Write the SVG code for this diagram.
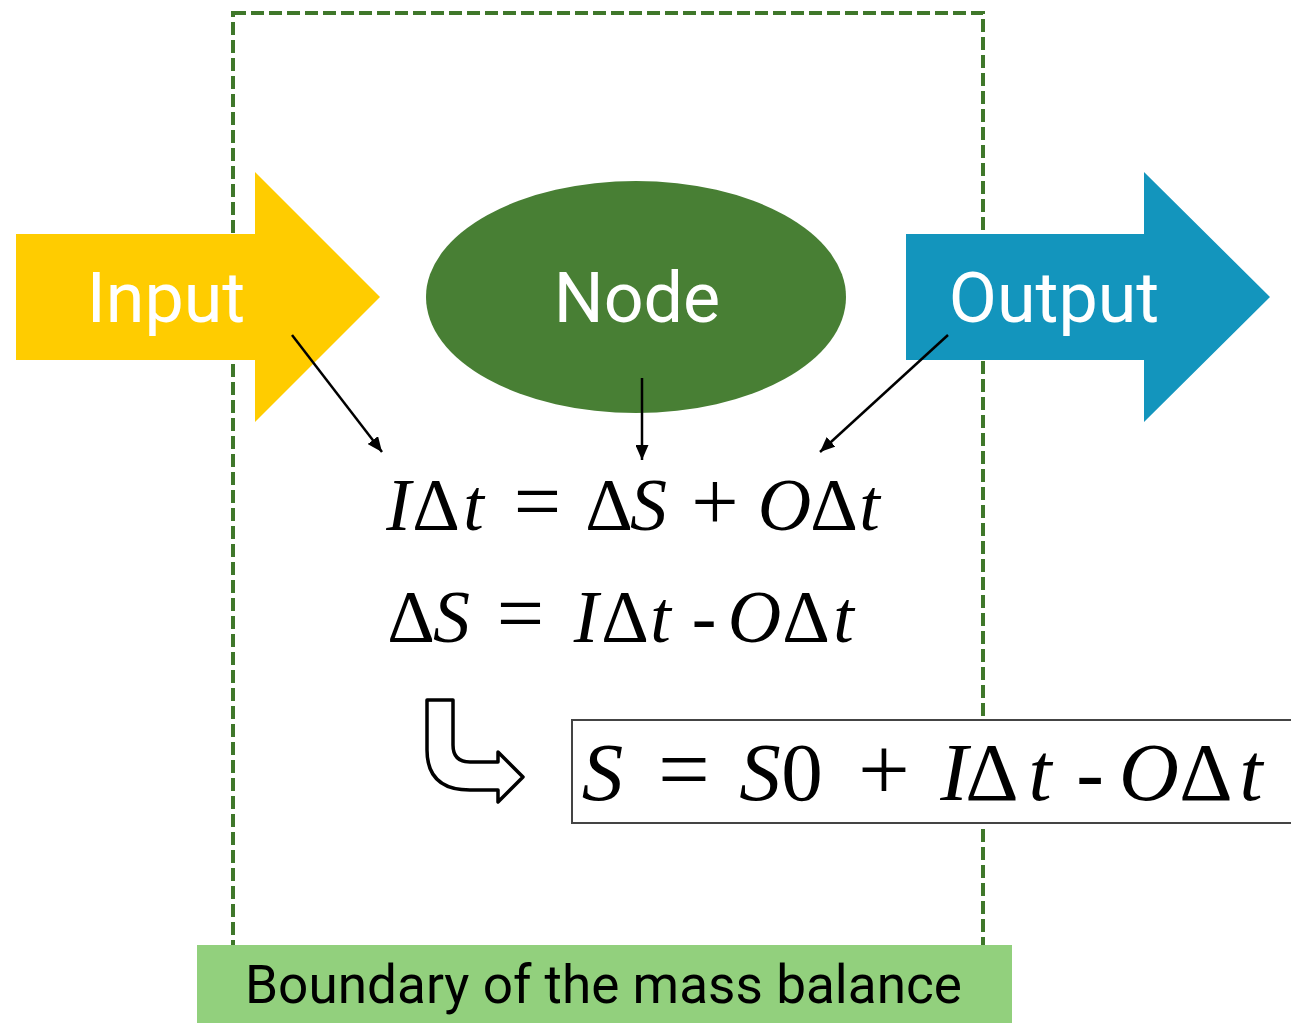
<svg xmlns="http://www.w3.org/2000/svg" width="1291" height="1023" viewBox="0 0 1291 1023">
  <style>
    .lbl { font-family: Roboto, "Liberation Sans", sans-serif; font-size: 70px; fill: #ffffff; text-anchor: middle; }
    .math { font-family: "Liberation Serif", "DejaVu Serif", serif; fill: #000000; text-anchor: middle; }
    .it { font-style: italic; }
    .op1 { font-size: 84px; }
    .op3 { font-size: 92px; }
    .conn { stroke: #000000; stroke-width: 2.5; fill: none; marker-end: url(#ah); }
  </style>
  <defs>
    <marker id="ah" viewBox="0 0 15 13" refX="15" refY="6.5" markerWidth="15" markerHeight="13" orient="auto" markerUnits="userSpaceOnUse">
      <path d="M0,0 L15,6.5 L0,13 Z" fill="#000000"/>
    </marker>
  </defs>
  <rect width="1291" height="1023" fill="#ffffff"/>

  <g id="boundary">
    <rect x="233" y="13" width="750" height="935" fill="none" stroke="#3F772A" stroke-width="4" stroke-dasharray="13 5"/>
  </g>

  <g id="input">
    <polygon points="16,234 255,234 255,172 380,297 255,422 255,360 16,360" fill="#FFCC00"/>
    <text class="lbl" x="166" y="322">Input</text>
  </g>

  <g id="node">
    <ellipse cx="636" cy="297" rx="210" ry="116" fill="#487F34"/>
    <text class="lbl" x="637" y="322">Node</text>
  </g>

  <g id="output">
    <polygon points="906,234 1144,234 1144,172 1270,297 1144,422 1144,360 906,360" fill="#1395BD"/>
    <text class="lbl" x="1054" y="322">Output</text>
  </g>

  <g id="connectors">
    <line class="conn" x1="292" y1="335" x2="382" y2="452"/>
    <line class="conn" x1="642" y1="378" x2="642" y2="460"/>
    <line class="conn" x1="948" y1="335" x2="820" y2="452"/>
  </g>

  <g id="eq1">
    <text class="math" y="530" font-size="74">
      <tspan class="it" x="398.5">I</tspan><tspan x="436">Δ</tspan><tspan class="it" x="473.5">t</tspan><tspan class="op1" x="537.5">=</tspan><tspan x="609">Δ</tspan><tspan class="it" x="648.5">S</tspan><tspan class="op1" x="715">+</tspan><tspan class="it" x="784.5">O</tspan><tspan x="834">Δ</tspan><tspan class="it" x="869.5">t</tspan>
    </text>
  </g>

  <g id="eq2">
    <text class="math" y="642" font-size="74">
      <tspan x="411">Δ</tspan><tspan class="it" x="451.5">S</tspan><tspan class="op1" x="520.5">=</tspan><tspan class="it" x="586">I</tspan><tspan x="625">Δ</tspan><tspan class="it" x="660.5">t</tspan><tspan x="704">-</tspan><tspan class="it" x="754.5">O</tspan><tspan x="806">Δ</tspan><tspan class="it" x="843.5">t</tspan>
    </text>
  </g>

  <g id="turn-arrow">
    <path d="M427,700 L453,700 L453,745 Q453,762 470,762 L498,762 L498,752 L523,777 L498,802 L498,790 L470,790 Q427,790 427,750 Z" fill="#ffffff" stroke="#000000" stroke-width="3.5" stroke-linejoin="round"/>
  </g>

  <g id="eq3">
    <rect x="572" y="720" width="725" height="103" fill="#ffffff" stroke="#444444" stroke-width="2"/>
    <text class="math" y="800" font-size="83">
      <tspan class="it" x="602.5">S</tspan><tspan class="op3" x="684">=</tspan><tspan class="it" x="760">S</tspan><tspan x="802">0</tspan><tspan class="op3" x="884">+</tspan><tspan class="it" x="954">I</tspan><tspan x="992">Δ</tspan><tspan class="it" x="1040">t</tspan><tspan x="1090">-</tspan><tspan class="it" x="1149">O</tspan><tspan x="1206">Δ</tspan><tspan class="it" x="1251">t</tspan>
    </text>
  </g>

  <g id="boundary-label">
    <rect x="197" y="945" width="815" height="78" fill="#92D07D"/>
    <text x="603.5" y="1003" font-family="Roboto, 'Liberation Sans', sans-serif" font-size="54" fill="#000000" text-anchor="middle" textLength="717" lengthAdjust="spacingAndGlyphs">Boundary of the mass balance</text>
  </g>
</svg>
